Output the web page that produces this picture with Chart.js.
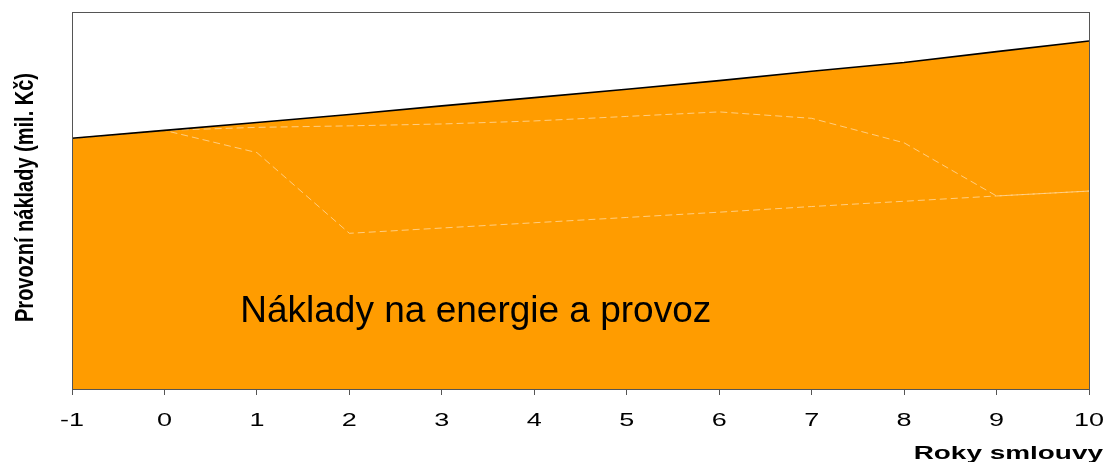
<!DOCTYPE html>
<html>
<head>
<meta charset="utf-8">
<script src="https://cdn.jsdelivr.net/npm/chart.js@4.4.0/dist/chart.umd.min.js"></script>
<style>
  html, body { margin: 0; padding: 0; background: #fff; }
  #wrap { width: 1107px; height: 462px; }
</style>
</head>
<body>
<div id="wrap"><canvas id="costChart"></canvas></div>
<script>
// Years of the contract (x axis)
const years = [-1, 0, 1, 2, 3, 4, 5, 6, 7, 8, 9, 10];

// Total operating costs (top black line)
const totalCosts = [66.5, 68.6, 70.7, 72.8, 75.1, 77.3, 79.5, 81.8, 84.3, 86.6, 89.5, 92.3];
// Inner faint boundaries of the stacked areas
const upperBand = [66.5, 68.6, 69.4, 69.8, 70.3, 71.1, 72.3, 73.5, 71.8, 65.3, 51.2, 52.5];
const lowerBand = [66.5, 68.6, 62.7, 41.3, 42.7, 44.1, 45.5, 46.9, 48.4, 49.8, 51.2, 52.5];

const areaLabel = 'Náklady na energie a provoz';
const yTitle = 'Provozní náklady (mil. Kč)';
const xTitle = 'Roky smlouvy';

const orange = '#FF9C00';
const faint = 'rgba(255, 214, 150, 0.85)';
const sans = '"Liberation Sans", Arial, sans-serif';

function toPoints(values) {
    return years.map((y, i) => ({ x: y, y: values[i] }));
}

// draw text squeezed or stretched horizontally (the original uses wide / narrow faces)
function drawScaledText(ctx, text, x, y, sx, align) {
    ctx.save();
    ctx.translate(x, y);
    ctx.scale(sx, 1);
    ctx.textAlign = align;
    ctx.fillText(text, 0, 0);
    ctx.restore();
}

// Box around the plot area, the texts and the axis labels
const plotDecor = {
    id: 'plotDecor',
    afterDatasetsDraw(chart) {
        const { ctx, chartArea, scales } = chart;
        const xs = scales.x;
        ctx.save();
        ctx.fillStyle = '#000';
        ctx.textBaseline = 'alphabetic';

        // label inside the area
        ctx.font = '37px ' + sans;
        ctx.textAlign = 'left';
        ctx.fillText(areaLabel, xs.getPixelForValue(0.82), scales.y.getPixelForValue(17.8));

        // plot frame
        ctx.strokeStyle = '#555';
        ctx.lineWidth = 1;
        ctx.strokeRect(chartArea.left + 0.5, chartArea.top + 0.5,
            chartArea.right - chartArea.left, chartArea.bottom - chartArea.top);

        // x tick labels, placed from the scale's own ticks
        ctx.font = '18px ' + sans;
        xs.ticks.forEach(t => {
            drawScaledText(ctx, String(t.value), xs.getPixelForValue(t.value),
                chartArea.bottom + 37, 1.5, 'center');
        });

        // x title, wide bold
        ctx.font = 'bold 19px ' + sans;
        drawScaledText(ctx, xTitle, chart.width - 4, chartArea.bottom + 70, 1.47, 'right');

        // y title, narrow bold, rotated
        ctx.font = 'bold 25px ' + sans;
        ctx.translate(33, (chartArea.top + chartArea.bottom) / 2 - 3);
        ctx.rotate(-Math.PI / 2);
        drawScaledText(ctx, yTitle, 0, 0, 0.8, 'center');
        ctx.restore();
    }
};

new Chart(document.getElementById('costChart').getContext('2d'), {
    type: 'line',
    data: {
        datasets: [
            {
                label: 'total',
                data: toPoints(totalCosts),
                borderColor: '#000',
                borderWidth: 1.6,
                backgroundColor: orange,
                fill: 'origin',
                pointRadius: 0,
                tension: 0
            },
            {
                label: 'upper',
                data: toPoints(upperBand),
                borderColor: faint,
                borderWidth: 1,
                borderDash: [7, 4],
                fill: false,
                pointRadius: 0,
                tension: 0
            },
            {
                label: 'lower',
                data: toPoints(lowerBand),
                borderColor: faint,
                borderWidth: 1,
                borderDash: [7, 4],
                fill: false,
                pointRadius: 0,
                tension: 0
            }
        ]
    },
    options: {
        responsive: true,
        maintainAspectRatio: false,
        animation: false,
        layout: { padding: { left: 10, right: 18, top: 12, bottom: 0 } },
        plugins: {
            legend: { display: false },
            tooltip: { enabled: false },
            filler: { drawTime: 'beforeDatasetsDraw' }
        },
        scales: {
            x: {
                type: 'linear',
                min: -1,
                max: 10,
                ticks: { stepSize: 1, display: false },
                grid: { drawOnChartArea: false, drawTicks: true, tickLength: 6, color: '#555' },
                border: { display: false },
                afterFit(scale) { scale.height = 73; }
            },
            y: {
                min: 0,
                max: 100,
                ticks: { display: false },
                grid: { display: false },
                border: { display: false },
                afterFit(scale) { scale.width = 62; }
            }
        }
    },
    plugins: [plotDecor]
});
</script>
</body>
</html>
